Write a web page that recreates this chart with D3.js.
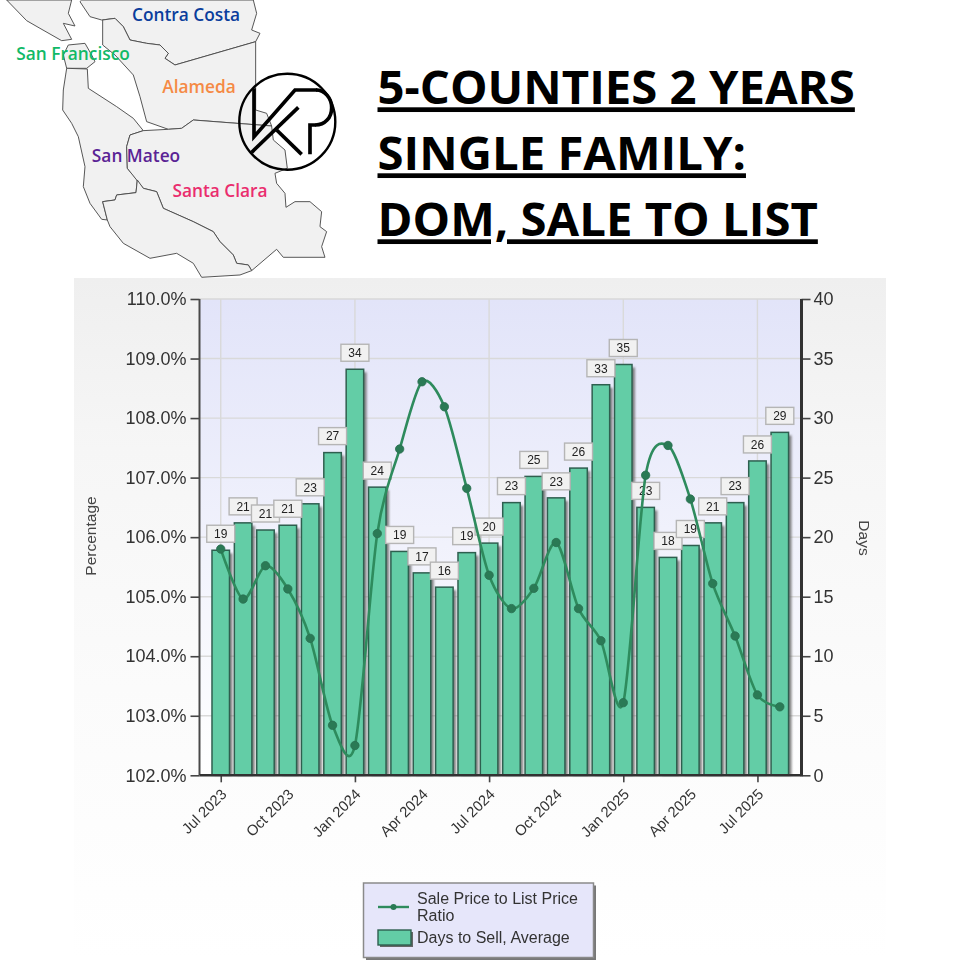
<!DOCTYPE html>
<html><head><meta charset="utf-8">
<script src="https://cdn.jsdelivr.net/npm/d3@7/dist/d3.min.js"></script>
<style>html,body{margin:0;padding:0;background:#fff}svg{display:block}</style>
</head><body><svg id="c" width="960" height="960"></svg>
<script>
const months = ["Jul 2023","Aug 2023","Sep 2023","Oct 2023","Nov 2023","Dec 2023","Jan 2024","Feb 2024","Mar 2024","Apr 2024","May 2024","Jun 2024","Jul 2024","Aug 2024","Sep 2024","Oct 2024","Nov 2024","Dec 2024","Jan 2025","Feb 2025","Mar 2025","Apr 2025","May 2025","Jun 2025","Jul 2025","Aug 2025"];
const daysToSell = [18.9,21.2,20.6,21.0,22.8,27.1,34.1,24.2,18.8,17.0,15.8,18.7,19.5,22.9,25.1,23.3,25.8,32.8,34.5,22.5,18.3,19.3,21.2,22.9,26.4,28.8];
const saleToList = [105.80,104.96,105.52,105.13,104.30,102.84,102.50,106.06,107.48,108.61,108.19,106.82,105.36,104.80,105.14,105.91,104.80,104.26,103.22,107.04,107.54,106.64,105.22,104.34,103.35,103.15];
const pctTicks = [102,103,104,105,106,107,108,109,110];
const dayTicks = [0,5,10,15,20,25,30,35,40];
const titleLines = ["5-COUNTIES 2 YEARS","SINGLE FAMILY:","DOM, SALE TO LIST"];
const countyNames = ["Contra Costa","San Francisco","Alameda","San Mateo","Santa Clara"];
const countyColors = ["#0a3d9c","#10b967","#f58a45","#5a2395","#ea2d6e"];
const countyLabelAt = [[186,15],[73,54],[199,87],[136,156],[220,191]];
const legendLabels = ["Sale Price to List Price","Ratio","Days to Sell, Average"];

// decorative map outlines, in the 3x crop coordinates of the picture
const mapShapes = [
 [[20,0],[80,62],[120,85],[185,122],[215,118],[190,70],[225,78],[205,40],[215,0]],
 [[240,5],[270,50],[305,60],[345,55],[370,80],[390,120],[440,130],[480,135],[505,160],[495,175],[525,195],[767,125],[780,100],[755,90],[770,40],[760,0],[245,0]],
 [[308,60],[345,55],[370,80],[390,120],[440,130],[480,135],[505,160],[495,175],[525,195],[767,125],[767,330],[800,340],[815,378],[580,360],[545,385],[505,388],[440,365],[420,290],[400,225],[345,165],[308,135]],
 [[205,135],[255,130],[275,165],[285,185],[260,205],[200,205],[190,165]],
 [[200,205],[262,207],[265,265],[350,320],[400,355],[430,392],[390,405],[380,440],[382,505],[412,540],[408,578],[350,585],[345,600],[308,605],[322,660],[305,658],[270,610],[250,560],[255,500],[235,410],[215,370],[188,330],[190,270]],
 [[430,392],[505,388],[545,385],[580,360],[815,378],[820,420],[855,450],[862,505],[825,520],[830,550],[855,580],[858,622],[885,605],[930,605],[965,635],[960,680],[980,695],[965,740],[975,772],[850,772],[830,748],[755,812],[745,795],[710,790],[700,765],[660,725],[640,695],[580,665],[490,625],[470,575],[430,565],[382,505],[380,440],[390,405]],
 [[308,605],[345,600],[350,585],[408,578],[412,540],[430,565],[470,575],[490,625],[580,665],[640,695],[660,725],[700,765],[710,790],[745,795],[755,812],[720,825],[605,832],[580,790],[530,760],[450,775],[370,730],[330,680],[322,660]]
];
const logoStrokes = [
 {w:11,pts:[[72,70],[72,215],[195,75],[262,75]]},
 {w:11,pts:[[65,262],[205,127]]},
 {w:11,pts:[[140,195],[215,268]]},
 {w:11,pts:[[240,268],[240,180],[258,180]]}
];

const svg = d3.select("#c");
const defs = svg.append("defs");
const panelG = defs.append("linearGradient").attr("id","panelG").attr("x2",0).attr("y2",1);
[[0,"#efefef"],[0.25,"#f6f6f6"],[0.6,"#fbfbfb"],[1,"#ffffff"]].forEach(s=>panelG.append("stop").attr("offset",s[0]).attr("stop-color",s[1]));
const plotG = defs.append("linearGradient").attr("id","plotG").attr("x2",0).attr("y2",1);
[[0,"#e2e4f9"],[1,"#ffffff"]].forEach(s=>plotG.append("stop").attr("offset",s[0]).attr("stop-color",s[1]));
defs.append("filter").attr("id","soft").append("feGaussianBlur").attr("stdDeviation",0.45);
defs.append("filter").attr("id","shadow").attr("x","-20%").attr("width","140%").append("feGaussianBlur").attr("stdDeviation",0.9);

// map
const mapG = svg.append("g").attr("transform","scale(0.3333)").attr("filter","url(#soft)");
const mapLine = d3.line().curve(d3.curveLinearClosed);
mapG.selectAll("path.county").data(mapShapes).join("path").attr("class","county")
  .attr("d",mapLine).attr("fill","#f1f1f1").attr("stroke","#4a4a4a").attr("stroke-width",2.8).attr("stroke-linejoin","round");

// county labels
svg.append("g").selectAll("text").data(countyNames).join("text")
  .attr("x",(d,i)=>countyLabelAt[i][0]).attr("y",(d,i)=>countyLabelAt[i][1]).attr("dy","0.36em")
  .attr("text-anchor","middle").attr("fill",(d,i)=>countyColors[i])
  .attr("font-family","'Open Sans'").attr("font-weight",600).attr("font-size",17.3).text(d=>d);

// logo
const logo = svg.append("g");
logo.append("circle").attr("cx",287.3).attr("cy",121.7).attr("r",48).attr("fill","none").attr("stroke","#000").attr("stroke-width",2.4);
const logoG = logo.append("g").attr("transform","translate(230,65) scale(0.3333)");
logoG.selectAll("path.s").data(logoStrokes).join("path").attr("class","s")
  .attr("d",d=>d3.line()(d.pts)).attr("fill","none").attr("stroke","#000").attr("stroke-width",d=>d.w)
  .attr("stroke-linejoin","miter");
logoG.append("path").attr("d","M258,75C285,75 305,100 305,128C305,158 285,180 256,180").attr("fill","none").attr("stroke","#000").attr("stroke-width",11);

// title
svg.append("g").selectAll("text").data(titleLines).join("text")
  .attr("x",377.5).attr("y",(d,i)=>104.3+i*66)
  .attr("font-family","'Open Sans'").attr("font-weight",700).attr("font-size",47.3)
  .attr("text-decoration","underline").attr("fill","#000").text(d=>d);

// chart
const X0=199.5,X1=801.5,YT=299,YB=775.3;
const x = d3.scaleLinear().domain([-0.95,25.97]).range([X0,X1]);
const yPct = d3.scaleLinear().domain([102,110]).range([YB,YT]);
const yDay = d3.scaleLinear().domain([0,40]).range([YB,YT]);

svg.append("rect").attr("x",74).attr("y",278).attr("width",812).attr("height",682).attr("fill","url(#panelG)");
const chart = svg.append("g").attr("filter","url(#soft)");
chart.append("rect").attr("x",X0).attr("y",YT).attr("width",X1-X0).attr("height",YB-YT).attr("fill","url(#plotG)");

// grid
const tickIdx = months.map((m,i)=>i).filter(i=>i%6===0);
const labelIdx = months.map((m,i)=>i).filter(i=>i%3===0);
chart.append("g").selectAll("line").data(pctTicks.slice(1)).join("line")
  .attr("x1",X0).attr("x2",X1).attr("y1",d=>yPct(d)).attr("y2",d=>yPct(d)).attr("stroke","#d9d9d9").attr("stroke-width",1.4);
chart.append("g").selectAll("line").data(tickIdx).join("line")
  .attr("x1",d=>x(d)).attr("x2",d=>x(d)).attr("y1",YT).attr("y2",YB).attr("stroke","#d9d9d9").attr("stroke-width",1.4);

// bars
const bw = 17.5;
chart.append("g").selectAll("rect").data(daysToSell).join("rect")
  .attr("x",(d,i)=>x(i)-bw/2+3).attr("y",d=>yDay(d)+3).attr("width",bw).attr("height",d=>Math.max(0,YB-yDay(d)-3))
  .attr("fill","#666").attr("opacity",0.8).attr("filter","url(#shadow)");
chart.append("g").selectAll("rect").data(daysToSell).join("rect")
  .attr("x",(d,i)=>x(i)-bw/2).attr("y",d=>yDay(d)).attr("width",bw).attr("height",d=>YB-yDay(d))
  .attr("fill","#63cda6").attr("stroke","#2f5f50").attr("stroke-width",1.5);

// value labels
const lab = chart.append("g").selectAll("g").data(daysToSell).join("g")
  .attr("transform",(d,i)=>`translate(${x(i)},${yDay(d)-16.5})`);
lab.append("rect").attr("x",-14).attr("y",-8.5).attr("width",28).attr("height",17)
  .attr("fill","#f1f1f1").attr("stroke","#b5b5b5").attr("stroke-width",1.4);
lab.append("text").attr("text-anchor","middle").attr("dy","0.36em").attr("font-family","'Liberation Sans'")
  .attr("font-size",12).attr("fill","#222").text(d=>Math.round(d));

// line
const spline = d3.line().x((d,i)=>x(i)).y(d=>yPct(d)).curve(d3.curveCardinal.tension(0.15));
chart.append("path").datum(saleToList).attr("d",spline).attr("fill","none").attr("stroke","#2e8b5d").attr("stroke-width",2.6);
chart.append("g").selectAll("circle").data(saleToList).join("circle")
  .attr("cx",(d,i)=>x(i)).attr("cy",d=>yPct(d)).attr("r",4.2).attr("fill","#2b7a55").attr("stroke","#2a6f50").attr("stroke-width",0.8);

// axes
const axL = d3.axisLeft(yPct).tickValues(pctTicks).tickSize(9).tickPadding(4).tickFormat(d=>d3.format(".1f")(d)+"%");
const axR = d3.axisRight(yDay).tickValues(dayTicks).tickSize(9).tickPadding(3);
const axB = d3.axisBottom(x).tickValues(tickIdx).tickSize(7).tickFormat("");
function style(g,w,c){g.selectAll(".domain").remove();g.selectAll("line").attr("stroke",c||"#444").attr("stroke-width",1.6);
  g.selectAll("text").attr("font-family","'Liberation Sans'").attr("font-size",18).attr("fill","#333");}
const gL=chart.append("g").attr("transform",`translate(${X0},0)`).call(axL); style(gL);
const gR=chart.append("g").attr("transform",`translate(${X1},0)`).call(axR); style(gR);
const gB=chart.append("g").attr("transform",`translate(0,${YB})`).call(axB); gB.selectAll(".domain").remove(); gB.selectAll("line").attr("stroke","#444").attr("stroke-width",1.6);
chart.append("line").attr("x1",X0).attr("x2",X0).attr("y1",YT).attr("y2",YB).attr("stroke","#4a4a4a").attr("stroke-width",2);
chart.append("line").attr("x1",X1).attr("x2",X1).attr("y1",YT).attr("y2",YB+1).attr("stroke","#333").attr("stroke-width",3);
chart.append("line").attr("x1",X0).attr("x2",X1).attr("y1",YB).attr("y2",YB).attr("stroke","#333").attr("stroke-width",2.4);

// month labels
chart.append("g").selectAll("text").data(labelIdx).join("text")
  .attr("transform",d=>`translate(${x(d)+3},${YB+16}) rotate(-45)`)
  .attr("text-anchor","end").attr("dy","0.36em").attr("font-family","'Liberation Sans'").attr("font-size",14.8).attr("fill","#333")
  .text(d=>months[d]);

// axis titles
chart.append("text").attr("transform","translate(90,536) rotate(-90)").attr("text-anchor","middle").attr("dy","0.36em")
  .attr("font-family","'Liberation Sans'").attr("font-size",15.5).attr("fill","#444").text("Percentage");
chart.append("text").attr("transform","translate(865,538) rotate(90)").attr("text-anchor","middle").attr("dy","0.36em")
  .attr("font-family","'Liberation Sans'").attr("font-size",15.5).attr("fill","#444").text("Days");

// legend
const lg = svg.append("g").attr("filter","url(#soft)");
lg.append("rect").attr("x",366).attr("y",885.5).attr("width",230).attr("height",74.5).attr("fill","#777");
lg.append("rect").attr("x",363.5).attr("y",883).attr("width",230).attr("height",74.5).attr("fill","#e6e6fa").attr("stroke","#8a8a8a").attr("stroke-width",1.5);
lg.append("line").attr("x1",378).attr("x2",409).attr("y1",907).attr("y2",907).attr("stroke","#2e8b5d").attr("stroke-width",2.4);
lg.append("circle").attr("cx",393.5).attr("cy",907).attr("r",3).attr("fill","#2b7a55");
lg.append("rect").attr("x",380).attr("y",932).attr("width",33).attr("height",15).attr("fill","#666");
lg.append("rect").attr("x",378).attr("y",930).attr("width",33).attr("height",15).attr("fill","#63cda6").attr("stroke","#2f5f50").attr("stroke-width",1.4);
lg.selectAll("text").data(legendLabels).join("text").attr("x",417).attr("y",(d,i)=>[898,915,937][i]).attr("dy","0.36em")
  .attr("font-family","'Liberation Sans'").attr("font-size",16).attr("fill","#333").text(d=>d);
</script></body></html>
